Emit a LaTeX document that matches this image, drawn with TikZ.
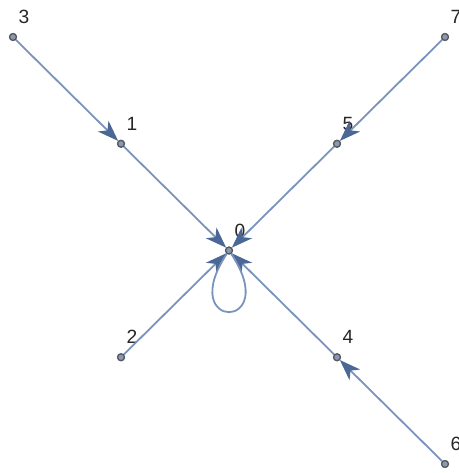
\documentclass[tikz,border=0pt]{standalone}
\usepackage{fontspec}
\setmainfont{Liberation Sans}
\usetikzlibrary{arrows.meta}
\definecolor{edgecol}{RGB}{122,147,188}
\definecolor{headcol}{RGB}{74,103,150}
\definecolor{dotfill}{RGB}{140,152,172}
\definecolor{dotline}{RGB}{85,88,98}
\begin{document}
\begin{tikzpicture}[x=1.9cm, y=1.878cm,
    vtx/.style={circle, fill=dotfill, draw=dotline, line width=0.6pt, inner sep=0pt, minimum size=0.12cm},
    lbl/.style={font=\fontsize{9.6}{11}\selectfont, text=black!85, shift={(0.194cm,0.352cm)}},
    edge/.style={draw=edgecol, line width=0.9pt, -{Stealth[length=10.5pt, width=7.5pt, inset=3pt, color=headcol]}}]
  \useasboundingbox (-0.1204,-4.0843) rectangle (4.1204,0.3466);
  % vertices
  \node[vtx, label={[lbl]center:3}] (v3) at (0,0) {};
  \node[vtx, label={[lbl]center:7}] (v7) at (4,0) {};
  \node[vtx, label={[lbl]center:1}] (v1) at (1,-1) {};
  \node[vtx, label={[lbl]center:5}] (v5) at (3,-1) {};
  \node[vtx, label={[lbl]center:0}] (v0) at (2,-2) {};
  \node[vtx, label={[lbl]center:2}] (v2) at (1,-3) {};
  \node[vtx, label={[lbl]center:4}] (v4) at (3,-3) {};
  \node[vtx, label={[lbl]center:6}] (v6) at (4,-4) {};
  % edges
  \draw[edge] (v3) -- (v1);
  \draw[edge] (v1) -- (v0);
  \draw[edge] (v7) -- (v5);
  \draw[edge] (v5) -- (v0);
  \draw[edge] (v2) -- (v0);
  \draw[edge] (v6) -- (v4);
  \draw[edge] (v4) -- (v0);
  % self loop
  \draw[draw=edgecol, line width=0.9pt] (v0) .. controls +(-0.5,-0.76) and +(0.5,-0.76) .. (v0);
  % redraw dots on top
  \foreach \v in {v0,v1,v2,v3,v4,v5,v6,v7}
    \node[vtx] at (\v) {};
\end{tikzpicture}
\end{document}
